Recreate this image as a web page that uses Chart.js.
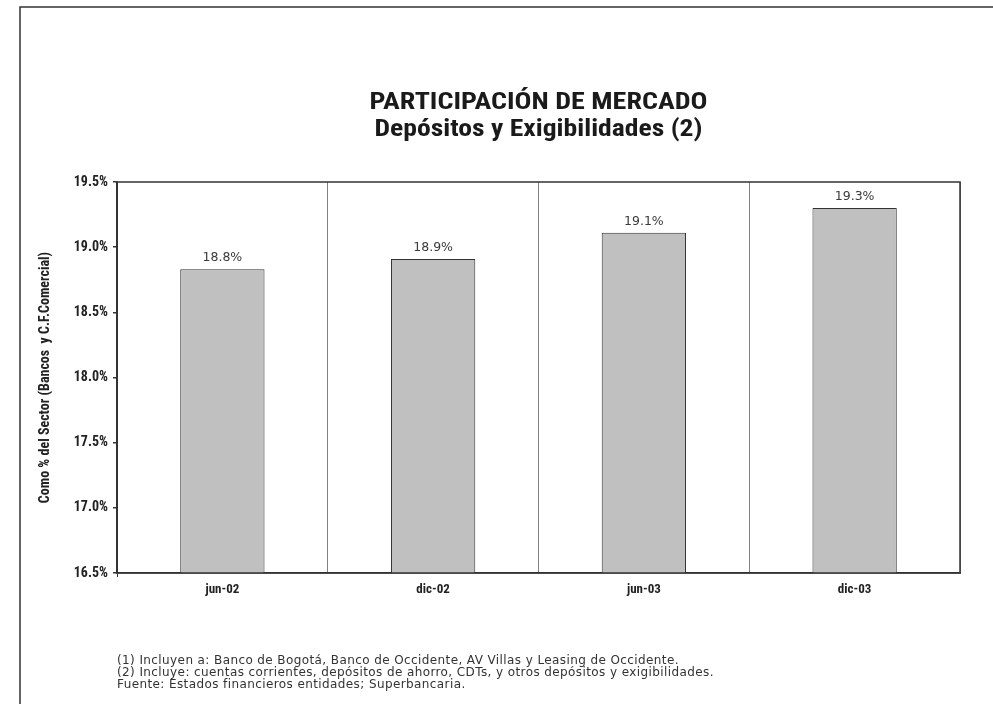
<!DOCTYPE html>
<html>
<head>
<meta charset="utf-8">
<script src="https://cdn.jsdelivr.net/npm/chart.js@4/dist/chart.umd.min.js"></script>
<style>
  html, body { margin: 0; padding: 0; background: #fff; }
  #wrap { width: 993px; height: 704px; position: relative; }
</style>
</head>
<body>
<div id="wrap"><canvas id="chart"></canvas></div>
<script>
const categories = ['jun-02', 'dic-02', 'jun-03', 'dic-03'];
const participacion = [18.83, 18.91, 19.11, 19.3];
const yMin = 16.5;
const yMax = 19.5;
const yStep = 0.5;
const titleLines = ['PARTICIPACIÓN DE MERCADO', 'Depósitos y Exigibilidades (2)'];
const yTitle = 'Como % del Sector (Bancos  y C.F.Comercial)';
const footnotes = [
  '(1) Incluyen a: Banco de Bogotá, Banco de Occidente, AV Villas y Leasing de Occidente.',
  '(2) Incluye: cuentas corrientes, depósitos de ahorro, CDTs, y otros depósitos y exigibilidades.',
  'Fuente: Estados financieros entidades; Superbancaria.',
];

const NARROW = "'Roboto Condensed', 'Liberation Sans Narrow', 'Arial Narrow', sans-serif";
const PLAIN = "'DejaVu Sans', sans-serif";

// text squeezed or stretched sideways to a given width
function fillWide(ctx, text, x, y, width) {
  const w = ctx.measureText(text).width;
  ctx.save();
  ctx.translate(x, y);
  ctx.scale(width / w, 1);
  ctx.fillText(text, 0, 0);
  ctx.restore();
}

// frame, title, plot border and footnotes
const decor = {
  id: 'decor',
  beforeDraw(chart) {
    const { ctx } = chart;
    ctx.save();
    ctx.strokeStyle = '#333';
    ctx.lineWidth = 1.5;
    ctx.beginPath();
    ctx.moveTo(20, 704);
    ctx.lineTo(20, 7);
    ctx.lineTo(993, 7);
    ctx.stroke();

    const cx = (chart.chartArea.left + chart.chartArea.right) / 2;
    ctx.fillStyle = '#1a1a1a';
    ctx.textAlign = 'center';
    ctx.textBaseline = 'middle';
    ctx.font = 'bold 23px ' + NARROW;
    fillWide(ctx, titleLines[0], cx, 103, 338);
    fillWide(ctx, titleLines[1], cx, 130, 328);

    ctx.textAlign = 'left';
    ctx.fillStyle = '#333';
    ctx.font = '12px ' + PLAIN;
    ctx.letterSpacing = '0.4px';
    footnotes.forEach((t, i) => ctx.fillText(t, 117, 661 + i * 12));
    ctx.restore();
  },
  afterDraw(chart) {
    const {
      ctx,
      chartArea: { left, top, width, height },
    } = chart;
    ctx.save();
    ctx.strokeStyle = '#333';
    ctx.lineWidth = 1.5;
    ctx.strokeRect(left, top, width, height);
    ctx.restore();
  },
};

const valueLabels = {
  id: 'valueLabels',
  afterDatasetsDraw(chart) {
    const { ctx } = chart;
    const meta = chart.getDatasetMeta(0);
    ctx.save();
    ctx.fillStyle = '#3a3a3a';
    ctx.font = '12.5px ' + PLAIN;
    ctx.textAlign = 'center';
    ctx.textBaseline = 'bottom';
    meta.data.forEach((bar, i) => {
      ctx.fillText(participacion[i].toFixed(1) + '%', bar.x, bar.y - 5);
    });
    ctx.restore();
  },
};

new Chart(document.getElementById('chart'), {
  type: 'bar',
  data: {
    labels: categories,
    datasets: [
      {
        data: participacion,
        backgroundColor: '#c0c0c0',
        borderColor: '#333',
        borderWidth: 1,
        barPercentage: 0.4,
        categoryPercentage: 1,
      },
    ],
  },
  options: {
    responsive: true,
    maintainAspectRatio: false,
    animation: false,
    events: [],
    layout: { padding: { left: 0, top: 182, right: 33, bottom: 101 } },
    scales: {
      x: {
        afterFit(scale) {
          scale.height = 30;
        },
        grid: {
          offset: true,
          color: (c) => (c.index === 0 || c.index === categories.length ? '#333' : '#808080'),
          tickColor: (c) => (c.index === 0 || c.index === categories.length ? '#333' : 'rgba(0,0,0,0)'),
          tickLength: 4,
          lineWidth: 1,
        },
        border: { color: '#333', width: 1.5 },
        ticks: {
          color: '#222',
          font: { family: NARROW, size: 13, weight: 'bold' },
          padding: 5,
        },
      },
      y: {
        min: yMin,
        max: yMax,
        afterFit(scale) {
          scale.width = 117;
        },
        grid: {
          drawOnChartArea: false,
          tickLength: 4,
          color: '#333',
          lineWidth: 1.5,
        },
        border: { color: '#333', width: 1.5 },
        ticks: {
          stepSize: yStep,
          color: '#222',
          font: { family: NARROW, size: 14, weight: 'bold' },
          padding: 5,
          callback: (v) => v.toFixed(1) + '%',
        },
        title: {
          display: true,
          text: yTitle,
          color: '#222',
          font: { family: NARROW, size: 14, weight: 'bold' },
          padding: { top: 37, bottom: 0 },
        },
      },
    },
    plugins: {
      legend: { display: false },
      tooltip: { enabled: false },
    },
  },
  plugins: [decor, valueLabels],
});
</script>
</body>
</html>
